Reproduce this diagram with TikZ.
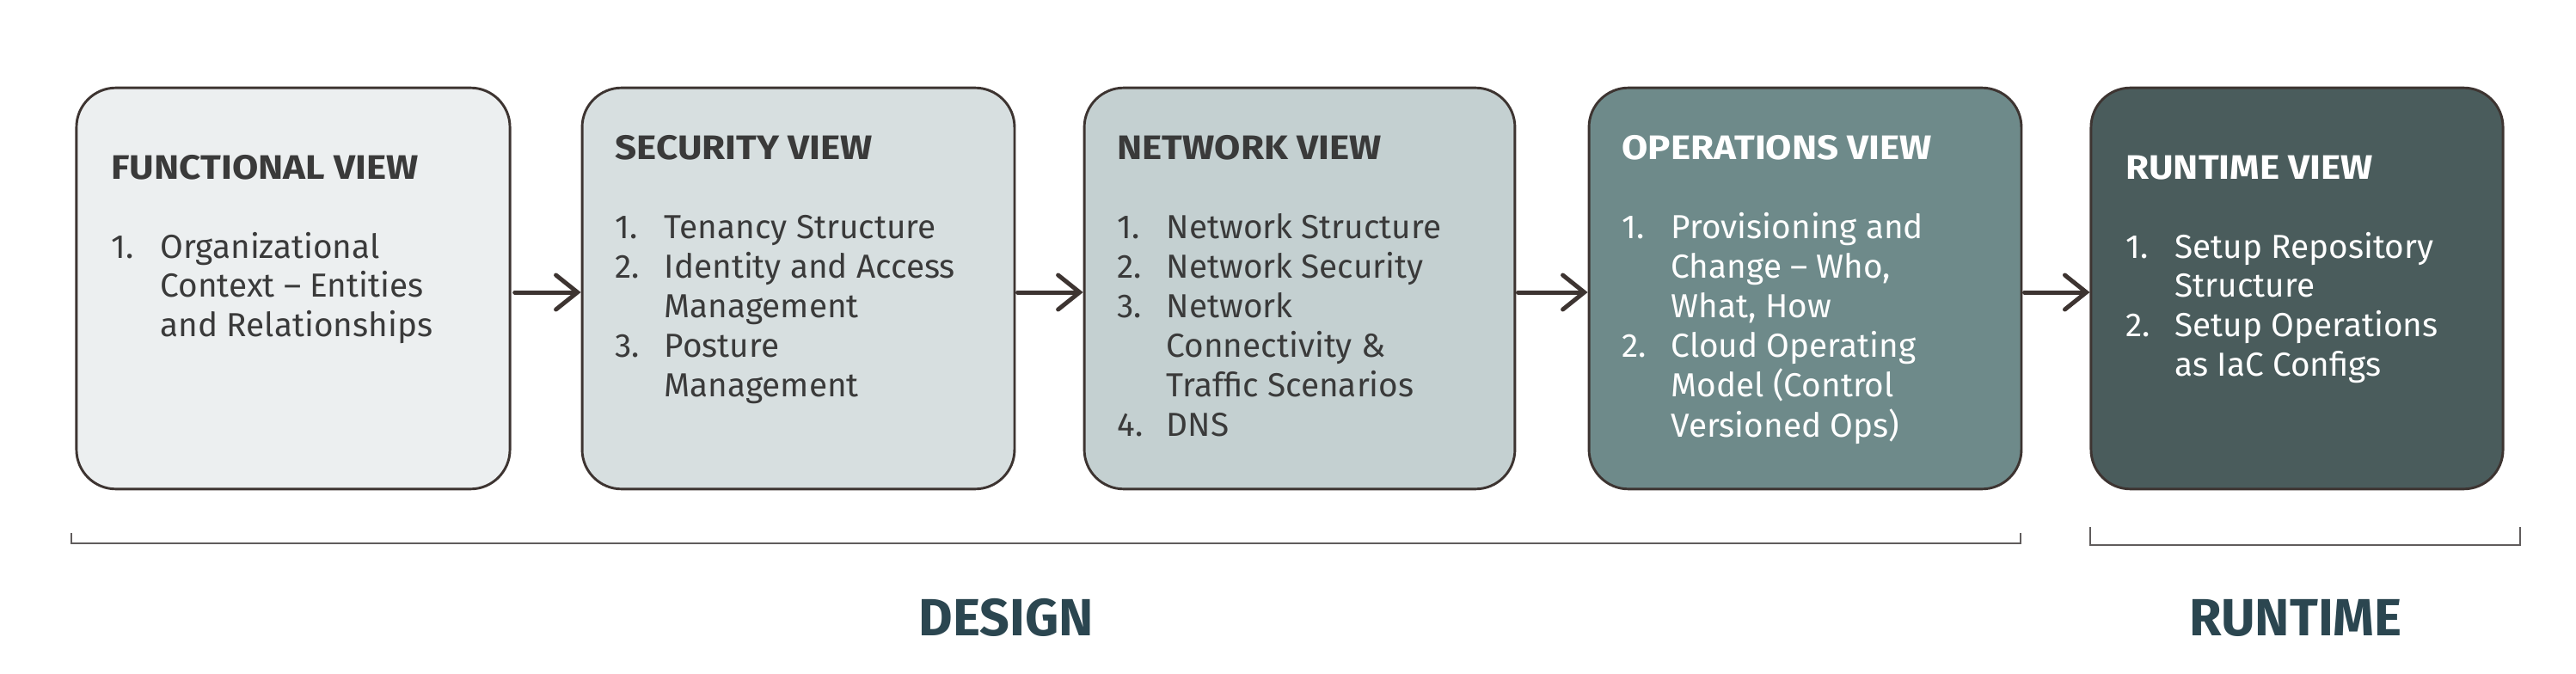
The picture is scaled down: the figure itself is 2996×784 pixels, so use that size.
\documentclass[tikz,border=0pt]{standalone}
\usepackage{fontspec}
\setmainfont{Fira Sans}
\newfontfamily\viewtitlefont[FakeStretch=1.11]{Fira Sans}
\usetikzlibrary{arrows.meta}

\definecolor{funcfill}{RGB}{236,239,240}
\definecolor{secfill}{RGB}{215,223,224}
\definecolor{netfill}{RGB}{196,208,209}
\definecolor{opsfill}{RGB}{110,138,138}
\definecolor{runfill}{RGB}{74,92,92}
\definecolor{boxline}{RGB}{61,52,49}
\definecolor{darktext}{RGB}{58,58,58}
\definecolor{phasetext}{RGB}{43,70,80}
\definecolor{bracegray}{RGB}{96,92,92}

\tikzset{every picture/.style={line width=0.75pt}}
\tikzset{
  viewbox/.style={draw=boxline, line width=0.7pt, rounded corners=11pt, inner sep=0pt},
  viewtitle/.style={anchor=base west, inner sep=0pt, font=\viewtitlefont\fontsize{9.5}{11}\selectfont\bfseries},
  viewlist/.style={anchor=base west, inner sep=0pt, font=\fontsize{9.3}{11}\selectfont},
  flow/.style={draw=boxline, line width=1.2pt, line cap=round, -{Straight Barb[length=6pt,width=9.6pt,line cap=round]}},
  phase/.style={draw=bracegray, line width=0.6pt},
  phaselabel/.style={anchor=base, inner sep=0pt, text=phasetext, font=\fontsize{14.6}{16}\selectfont\bfseries}
}
\newcommand{\viewitems}[1]{\begin{tabular}[t]{@{}p{13.7pt}@{}l@{}}#1\end{tabular}}

\begin{document}
\begin{tikzpicture}[x=0.24pt,y=0.24pt,yscale=-1,xscale=1]
        \useasboundingbox (0,0) rectangle (2996,784);

        %Shape: Rounded Rect [id:func]
        \node [viewbox, fill=funcfill, minimum width=121pt, minimum height=112pt] (func) at (341,335.5) {};
        %Shape: Rounded Rect [id:sec]
        \node [viewbox, fill=secfill, minimum width=120.7pt, minimum height=112pt] (sec) at (928.5,335.5) {};
        %Shape: Rounded Rect [id:net]
        \node [viewbox, fill=netfill, minimum width=120.2pt, minimum height=112pt] (net) at (1511.5,335.5) {};
        %Shape: Rounded Rect [id:ops]
        \node [viewbox, fill=opsfill, minimum width=120.7pt, minimum height=112pt] (ops) at (2099.5,335.5) {};
        %Shape: Rounded Rect [id:run]
        \node [viewbox, fill=runfill, minimum width=115pt, minimum height=112pt] (run) at (2671.5,335.5) {};

        %Straight Lines [id:flow]
        \draw [flow, shorten <=1pt] (func.east |- 0,340) -- (sec.west |- 0,340);
        \draw [flow, shorten <=0.5pt] (sec.east |- 0,340) -- (net.west |- 0,340);
        \draw [flow, shorten <=0.5pt] (net.east |- 0,340) -- (ops.west |- 0,340);
        \draw [flow, shorten <=0.5pt] (ops.east |- 0,340) -- (run.west |- 0,340);

        % Text Node
        \node [viewtitle, text=darktext] (functitle) at (128,209) {FUNCTIONAL VIEW};
        % Text Node
        \node [viewlist, text=darktext] (funclist) at (128,300) {\viewitems{1. & Organizational\\ & Context -- Entities\\ & and Relationships}};
        % Text Node
        \node [viewtitle, text=darktext] (sectitle) at (714,186) {SECURITY VIEW};
        % Text Node
        \node [viewlist, text=darktext] (seclist) at (714,278) {\viewitems{1. & Tenancy Structure\\2. & Identity and Access\\ & Management\\3. & Posture\\ & Management}};
        % Text Node
        \node [viewtitle, text=darktext] (nettitle) at (1298,186) {NETWORK VIEW};
        % Text Node
        \node [viewlist, text=darktext] (netlist) at (1298,278) {\viewitems{1. & Network Structure\\2. & Network Security\\3. & Network\\ & Connectivity \&\\ & Traffic Scenarios\\4. & DNS}};
        % Text Node
        \node [viewtitle, text=white] (opstitle) at (1885,186) {OPERATIONS VIEW};
        % Text Node
        \node [viewlist, text=white] (opslist) at (1885,278) {\viewitems{1. & Provisioning and\\ & Change -- Who,\\ & What, How\\2. & Cloud Operating\\ & Model (Control\\ & Versioned Ops)}};
        % Text Node
        \node [viewtitle, text=white] (runtitle) at (2471,209) {RUNTIME VIEW};
        % Text Node
        \node [viewlist, text=white] (runlist) at (2471,300) {\viewitems{1. & Setup Repository\\ & Structure\\2. & Setup Operations\\ & as IaC Configs}};

        %Straight Lines [id:design brace]
        \draw [phase] (83,620) -- (83,632) -- (2350,632) -- (2350,620);
        %Straight Lines [id:runtime brace]
        \draw [phase] (2431,613) -- (2431,634) -- (2931,634) -- (2931,613);

        % Text Node
        \node [phaselabel] (design) at (1170,739) {DESIGN};
        % Text Node
        \node [phaselabel] (runtime) at (2670,739) {RUNTIME};

\end{tikzpicture}
\end{document}
